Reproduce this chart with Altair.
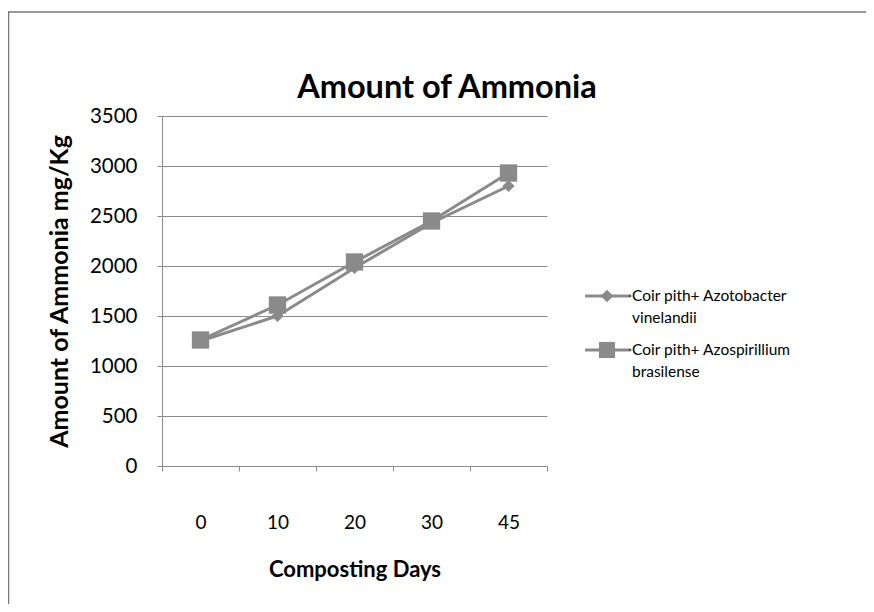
import altair as alt
import pandas as pd

days = ["0", "10", "20", "30", "45"]
azotobacter = [1250, 1500, 1980, 2430, 2800]
azospirillum = [1260, 1610, 2040, 2450, 2930]
series_names = ["Coir pith+ Azotobacter|vinelandii", "Coir pith+ Azospirillium|brasilense"]
series_shapes = ["diamond", "square"]
chart_title = "Amount of Ammonia"

rows = []
for d, v in zip(days, azotobacter):
    rows.append({"day": d, "value": v, "series": series_names[0]})
for d, v in zip(days, azospirillum):
    rows.append({"day": d, "value": v, "series": series_names[1]})
df = pd.DataFrame(rows)

FONT = "Lato"
GRAY = "#8a8a8a"

x_enc = alt.X("day:N", sort=days, title="Composting Days",
              scale=alt.Scale(paddingInner=0, paddingOuter=0),
              axis=alt.Axis(labelAngle=0, labelPadding=42, tickBand="extent", tickSize=5,
                            titleY=103, titleBaseline="middle"))
y_enc = alt.Y("value:Q", title="Amount of Ammonia mg/Kg",
              scale=alt.Scale(domain=[0, 3500]),
              axis=alt.Axis(values=list(range(0, 3501, 500)), format="d", tickSize=5, labelPadding=20,
                            labelFontSize=20.5, titleFontSize=25,
                            titleX=-103, titleY=175, titleAngle=-90, titleBaseline="middle"))

shape_scale = alt.Scale(domain=series_names, range=series_shapes)
size_scale = alt.Scale(domain=series_names, range=[150, 300])

frame = alt.Chart(alt.Data(values=[{}])).mark_rect(fill=None, stroke="#777", strokeWidth=1.5).encode(
    x=alt.value(-153.5), x2=alt.value(712), y=alt.value(-104), y2=alt.value(500)
)

title_text = alt.Chart(alt.Data(values=[{"t": chart_title}])).mark_text(
    font=FONT, fontSize=32.5, fontWeight="bold", color="#000", baseline="middle", align="center"
).encode(x=alt.value(285), y=alt.value(-28), text="t:N")

lines = alt.Chart(df).mark_line(strokeWidth=3, color=GRAY).encode(
    x=x_enc, y=y_enc, detail="series:N"
)
points = alt.Chart(df).mark_point(filled=True, opacity=1, color=GRAY).encode(
    x=alt.X("day:N", sort=days), y="value:Q",
    shape=alt.Shape("series:N", scale=shape_scale, legend=None),
    size=alt.Size("series:N", scale=size_scale, legend=None),
)

# manual legend (line + marker + two-line label)
legend_layers = []
legend_sizes = [160, 260]
for i, (name, shp) in enumerate(zip(series_names, series_shapes)):
    ly = 180 + 54 * i
    src = alt.Data(values=[{"label": name}])
    legend_layers.append(
        alt.Chart(src).mark_rule(color=GRAY, strokeWidth=3).encode(
            x=alt.value(423), x2=alt.value(467), y=alt.value(ly))
    )
    legend_layers.append(
        alt.Chart(src).mark_point(filled=True, opacity=1, color=GRAY, shape=shp,
                                  size=legend_sizes[i]).encode(
            x=alt.value(445), y=alt.value(ly))
    )
    legend_layers.append(
        alt.Chart(src).mark_point(filled=True, opacity=1, color="#555", shape="circle",
                                  size=8).encode(
            x=alt.value(468), y=alt.value(ly))
    )
    legend_layers.append(
        alt.Chart(src).mark_text(font=FONT, fontSize=15.5, color="#000", align="left",
                                 baseline="top", lineBreak="|", lineHeight=22).encode(
            x=alt.value(470), y=alt.value(ly - 7), text="label:N")
    )

chart = alt.layer(frame, title_text, lines, points, *legend_layers).properties(
    width=385, height=350,
    autosize=alt.AutoSizeParams(type="none"),
    padding={"left": 154, "top": 108, "right": 319, "bottom": 138},
).configure_view(stroke=None).configure_axis(
    labelFont=FONT, labelFontSize=19, labelColor="#000",
    titleFont=FONT, titleFontSize=22, titleFontWeight="bold", titleColor="#000",
    domainColor=GRAY, tickColor=GRAY, gridColor=GRAY, domainWidth=1,
).configure_axisX(grid=False).configure_axisY(grid=True)

chart.save("out.html", embed_options={"renderer": "svg", "actions": False})
